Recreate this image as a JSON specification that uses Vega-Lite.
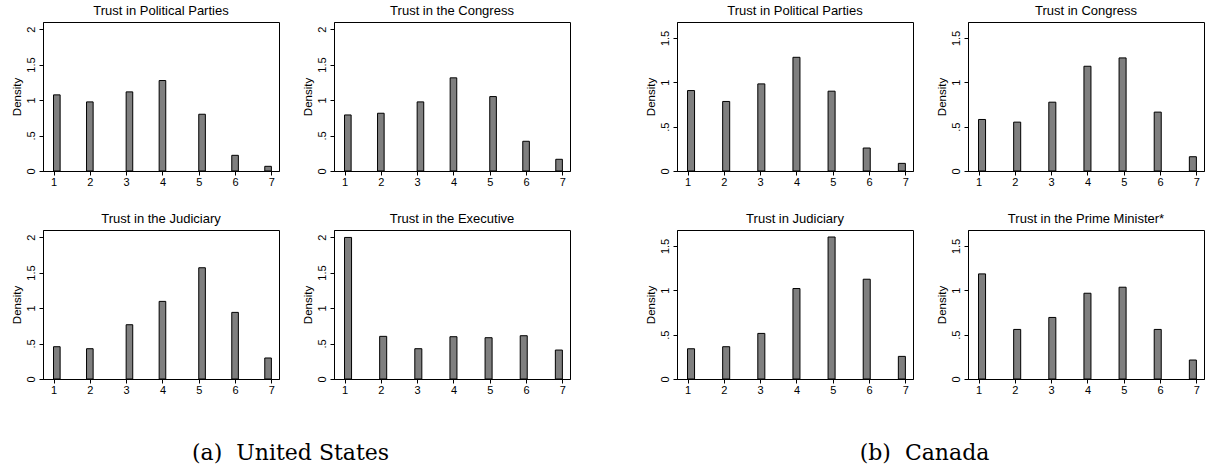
{
  "$schema": "https://vega.github.io/schema/vega-lite/v6.json",
  "background": "white",
  "padding": {"left": 10, "top": 4, "right": 0, "bottom": 0},
  "datasets": {
    "bars": [
      {"panel": "us1", "v": 1, "x0": 1.0, "x1": 1.1818, "d": 1.073},
      {"panel": "us1", "v": 2, "x0": 1.9091, "x1": 2.0909, "d": 0.974},
      {"panel": "us1", "v": 3, "x0": 3.0, "x1": 3.1818, "d": 1.115},
      {"panel": "us1", "v": 4, "x0": 3.9091, "x1": 4.0909, "d": 1.275},
      {"panel": "us1", "v": 5, "x0": 5.0, "x1": 5.1818, "d": 0.8},
      {"panel": "us1", "v": 6, "x0": 5.9091, "x1": 6.0909, "d": 0.221},
      {"panel": "us1", "v": 7, "x0": 6.8182, "x1": 7.0, "d": 0.066},
      {"panel": "us2", "v": 1, "x0": 1.0, "x1": 1.1818, "d": 0.79},
      {"panel": "us2", "v": 2, "x0": 1.9091, "x1": 2.0909, "d": 0.814},
      {"panel": "us2", "v": 3, "x0": 3.0, "x1": 3.1818, "d": 0.974},
      {"panel": "us2", "v": 4, "x0": 3.9091, "x1": 4.0909, "d": 1.313},
      {"panel": "us2", "v": 5, "x0": 5.0, "x1": 5.1818, "d": 1.049},
      {"panel": "us2", "v": 6, "x0": 5.9091, "x1": 6.0909, "d": 0.419},
      {"panel": "us2", "v": 7, "x0": 6.8182, "x1": 7.0, "d": 0.165},
      {"panel": "us3", "v": 1, "x0": 1.0, "x1": 1.1818, "d": 0.455},
      {"panel": "us3", "v": 2, "x0": 1.9091, "x1": 2.0909, "d": 0.427},
      {"panel": "us3", "v": 3, "x0": 3.0, "x1": 3.1818, "d": 0.765},
      {"panel": "us3", "v": 4, "x0": 3.9091, "x1": 4.0909, "d": 1.094},
      {"panel": "us3", "v": 5, "x0": 5.0, "x1": 5.1818, "d": 1.568},
      {"panel": "us3", "v": 6, "x0": 5.9091, "x1": 6.0909, "d": 0.939},
      {"panel": "us3", "v": 7, "x0": 6.8182, "x1": 7.0, "d": 0.296},
      {"panel": "us4", "v": 1, "x0": 1.0, "x1": 1.1935, "d": 1.995},
      {"panel": "us4", "v": 2, "x0": 1.9677, "x1": 2.1613, "d": 0.601},
      {"panel": "us4", "v": 3, "x0": 2.9355, "x1": 3.129, "d": 0.427},
      {"panel": "us4", "v": 4, "x0": 3.9032, "x1": 4.0968, "d": 0.596},
      {"panel": "us4", "v": 5, "x0": 4.871, "x1": 5.0645, "d": 0.582},
      {"panel": "us4", "v": 6, "x0": 5.8387, "x1": 6.0323, "d": 0.61},
      {"panel": "us4", "v": 7, "x0": 6.8065, "x1": 7.0, "d": 0.408},
      {"panel": "ca1", "v": 1, "x0": 1.0, "x1": 1.1935, "d": 0.907},
      {"panel": "ca1", "v": 2, "x0": 1.9677, "x1": 2.1613, "d": 0.784},
      {"panel": "ca1", "v": 3, "x0": 2.9355, "x1": 3.129, "d": 0.982},
      {"panel": "ca1", "v": 4, "x0": 3.9032, "x1": 4.0968, "d": 1.282},
      {"panel": "ca1", "v": 5, "x0": 4.871, "x1": 5.0645, "d": 0.9},
      {"panel": "ca1", "v": 6, "x0": 5.8387, "x1": 6.0323, "d": 0.259},
      {"panel": "ca1", "v": 7, "x0": 6.8065, "x1": 7.0, "d": 0.086},
      {"panel": "ca2", "v": 1, "x0": 1.0, "x1": 1.1935, "d": 0.581},
      {"panel": "ca2", "v": 2, "x0": 1.9677, "x1": 2.1613, "d": 0.551},
      {"panel": "ca2", "v": 3, "x0": 2.9355, "x1": 3.129, "d": 0.776},
      {"panel": "ca2", "v": 4, "x0": 3.9032, "x1": 4.0968, "d": 1.181},
      {"panel": "ca2", "v": 5, "x0": 4.871, "x1": 5.0645, "d": 1.275},
      {"panel": "ca2", "v": 6, "x0": 5.8387, "x1": 6.0323, "d": 0.664},
      {"panel": "ca2", "v": 7, "x0": 6.8065, "x1": 7.0, "d": 0.161},
      {"panel": "ca3", "v": 1, "x0": 1.0, "x1": 1.1935, "d": 0.341},
      {"panel": "ca3", "v": 2, "x0": 1.9677, "x1": 2.1613, "d": 0.364},
      {"panel": "ca3", "v": 3, "x0": 2.9355, "x1": 3.129, "d": 0.514},
      {"panel": "ca3", "v": 4, "x0": 3.9032, "x1": 4.0968, "d": 1.02},
      {"panel": "ca3", "v": 5, "x0": 4.871, "x1": 5.0645, "d": 1.601},
      {"panel": "ca3", "v": 6, "x0": 5.8387, "x1": 6.0323, "d": 1.125},
      {"panel": "ca3", "v": 7, "x0": 6.8065, "x1": 7.0, "d": 0.255},
      {"panel": "ca4", "v": 1, "x0": 1.0, "x1": 1.1935, "d": 1.185},
      {"panel": "ca4", "v": 2, "x0": 1.9677, "x1": 2.1613, "d": 0.559},
      {"panel": "ca4", "v": 3, "x0": 2.9355, "x1": 3.129, "d": 0.694},
      {"panel": "ca4", "v": 4, "x0": 3.9032, "x1": 4.0968, "d": 0.967},
      {"panel": "ca4", "v": 5, "x0": 4.871, "x1": 5.0645, "d": 1.035},
      {"panel": "ca4", "v": 6, "x0": 5.8387, "x1": 6.0323, "d": 0.559},
      {"panel": "ca4", "v": 7, "x0": 6.8065, "x1": 7.0, "d": 0.214}
    ]
  },
  "spacing": 73,
  "hconcat": [
    {
      "title": {"text": "(a)\u00a0\u00a0United States", "orient": "bottom", "anchor": "middle", "font": "DejaVu Serif", "fontSize": 22, "fontWeight": "normal", "offset": 47},
      "spacing": 24,
      "vconcat": [
        {
          "spacing": 21,
          "hconcat": [
            {
              "width": 236, "height": 149,
              "title": "Trust in Political Parties",
              "data": {"name": "bars"},
              "transform": [{"filter": "datum.panel === 'us1'"}],
              "mark": {"type": "bar", "fill": "#7f7f7f", "stroke": "#000000", "strokeWidth": 1},
              "encoding": {
                "x": {"field": "x0", "type": "quantitative", "scale": {"domain": [0.71, 7.21], "nice": false, "zero": false}, "axis": {"values": [1, 2, 3, 4, 5, 6, 7], "format": "d", "title": null}},
                "x2": {"field": "x1"},
                "y": {"field": "d", "type": "quantitative", "scale": {"domain": [0, 2.1], "nice": false}, "axis": {"values": [0, 0.5, 1, 1.5, 2], "labelExpr": "datum.value === 0.5 ? '.5' : format(datum.value, '~g')", "title": "Density"}},
                "y2": {"datum": 0}
              }
            },
            {
              "width": 236, "height": 149,
              "title": "Trust in the Congress",
              "data": {"name": "bars"},
              "transform": [{"filter": "datum.panel === 'us2'"}],
              "mark": {"type": "bar", "fill": "#7f7f7f", "stroke": "#000000", "strokeWidth": 1},
              "encoding": {
                "x": {"field": "x0", "type": "quantitative", "scale": {"domain": [0.71, 7.21], "nice": false, "zero": false}, "axis": {"values": [1, 2, 3, 4, 5, 6, 7], "format": "d", "title": null}},
                "x2": {"field": "x1"},
                "y": {"field": "d", "type": "quantitative", "scale": {"domain": [0, 2.1], "nice": false}, "axis": {"values": [0, 0.5, 1, 1.5, 2], "labelExpr": "datum.value === 0.5 ? '.5' : format(datum.value, '~g')", "title": "Density"}},
                "y2": {"datum": 0}
              }
            }
          ]
        },
        {
          "spacing": 21,
          "hconcat": [
            {
              "width": 236, "height": 149,
              "title": "Trust in the Judiciary",
              "data": {"name": "bars"},
              "transform": [{"filter": "datum.panel === 'us3'"}],
              "mark": {"type": "bar", "fill": "#7f7f7f", "stroke": "#000000", "strokeWidth": 1},
              "encoding": {
                "x": {"field": "x0", "type": "quantitative", "scale": {"domain": [0.71, 7.21], "nice": false, "zero": false}, "axis": {"values": [1, 2, 3, 4, 5, 6, 7], "format": "d", "title": null}},
                "x2": {"field": "x1"},
                "y": {"field": "d", "type": "quantitative", "scale": {"domain": [0, 2.1], "nice": false}, "axis": {"values": [0, 0.5, 1, 1.5, 2], "labelExpr": "datum.value === 0.5 ? '.5' : format(datum.value, '~g')", "title": "Density"}},
                "y2": {"datum": 0}
              }
            },
            {
              "width": 236, "height": 149,
              "title": "Trust in the Executive",
              "data": {"name": "bars"},
              "transform": [{"filter": "datum.panel === 'us4'"}],
              "mark": {"type": "bar", "fill": "#7f7f7f", "stroke": "#000000", "strokeWidth": 1},
              "encoding": {
                "x": {"field": "x0", "type": "quantitative", "scale": {"domain": [0.71, 7.21], "nice": false, "zero": false}, "axis": {"values": [1, 2, 3, 4, 5, 6, 7], "format": "d", "title": null}},
                "x2": {"field": "x1"},
                "y": {"field": "d", "type": "quantitative", "scale": {"domain": [0, 2.1], "nice": false}, "axis": {"values": [0, 0.5, 1, 1.5, 2], "labelExpr": "datum.value === 0.5 ? '.5' : format(datum.value, '~g')", "title": "Density"}},
                "y2": {"datum": 0}
              }
            }
          ]
        }
      ]
    },
    {
      "title": {"text": "(b)\u00a0\u00a0Canada", "orient": "bottom", "anchor": "middle", "font": "DejaVu Serif", "fontSize": 22, "fontWeight": "normal", "offset": 47},
      "spacing": 24,
      "vconcat": [
        {
          "spacing": 21,
          "hconcat": [
            {
              "width": 236, "height": 149,
              "title": "Trust in Political Parties",
              "data": {"name": "bars"},
              "transform": [{"filter": "datum.panel === 'ca1'"}],
              "mark": {"type": "bar", "fill": "#7f7f7f", "stroke": "#000000", "strokeWidth": 1},
              "encoding": {
                "x": {"field": "x0", "type": "quantitative", "scale": {"domain": [0.71, 7.21], "nice": false, "zero": false}, "axis": {"values": [1, 2, 3, 4, 5, 6, 7], "format": "d", "title": null}},
                "x2": {"field": "x1"},
                "y": {"field": "d", "type": "quantitative", "scale": {"domain": [0, 1.68], "nice": false}, "axis": {"values": [0, 0.5, 1, 1.5], "labelExpr": "datum.value === 0.5 ? '.5' : format(datum.value, '~g')", "title": "Density"}},
                "y2": {"datum": 0}
              }
            },
            {
              "width": 236, "height": 149,
              "title": "Trust in Congress",
              "data": {"name": "bars"},
              "transform": [{"filter": "datum.panel === 'ca2'"}],
              "mark": {"type": "bar", "fill": "#7f7f7f", "stroke": "#000000", "strokeWidth": 1},
              "encoding": {
                "x": {"field": "x0", "type": "quantitative", "scale": {"domain": [0.71, 7.21], "nice": false, "zero": false}, "axis": {"values": [1, 2, 3, 4, 5, 6, 7], "format": "d", "title": null}},
                "x2": {"field": "x1"},
                "y": {"field": "d", "type": "quantitative", "scale": {"domain": [0, 1.68], "nice": false}, "axis": {"values": [0, 0.5, 1, 1.5], "labelExpr": "datum.value === 0.5 ? '.5' : format(datum.value, '~g')", "title": "Density"}},
                "y2": {"datum": 0}
              }
            }
          ]
        },
        {
          "spacing": 21,
          "hconcat": [
            {
              "width": 236, "height": 149,
              "title": "Trust in Judiciary",
              "data": {"name": "bars"},
              "transform": [{"filter": "datum.panel === 'ca3'"}],
              "mark": {"type": "bar", "fill": "#7f7f7f", "stroke": "#000000", "strokeWidth": 1},
              "encoding": {
                "x": {"field": "x0", "type": "quantitative", "scale": {"domain": [0.71, 7.21], "nice": false, "zero": false}, "axis": {"values": [1, 2, 3, 4, 5, 6, 7], "format": "d", "title": null}},
                "x2": {"field": "x1"},
                "y": {"field": "d", "type": "quantitative", "scale": {"domain": [0, 1.68], "nice": false}, "axis": {"values": [0, 0.5, 1, 1.5], "labelExpr": "datum.value === 0.5 ? '.5' : format(datum.value, '~g')", "title": "Density"}},
                "y2": {"datum": 0}
              }
            },
            {
              "width": 236, "height": 149,
              "title": "Trust in the Prime Minister*",
              "data": {"name": "bars"},
              "transform": [{"filter": "datum.panel === 'ca4'"}],
              "mark": {"type": "bar", "fill": "#7f7f7f", "stroke": "#000000", "strokeWidth": 1},
              "encoding": {
                "x": {"field": "x0", "type": "quantitative", "scale": {"domain": [0.71, 7.21], "nice": false, "zero": false}, "axis": {"values": [1, 2, 3, 4, 5, 6, 7], "format": "d", "title": null}},
                "x2": {"field": "x1"},
                "y": {"field": "d", "type": "quantitative", "scale": {"domain": [0, 1.68], "nice": false}, "axis": {"values": [0, 0.5, 1, 1.5], "labelExpr": "datum.value === 0.5 ? '.5' : format(datum.value, '~g')", "title": "Density"}},
                "y2": {"datum": 0}
              }
            }
          ]
        }
      ]
    }
  ],
  "config": {
    "font": "Liberation Sans",
    "view": {"stroke": "#000000", "strokeWidth": 1},
    "title": {"fontSize": 13, "fontWeight": "normal", "color": "#000000", "offset": 4},
    "axis": {"grid": false, "domainColor": "#000000", "tickColor": "#000000", "labelColor": "#000000", "titleColor": "#000000", "labelFont": "Liberation Sans", "titleFont": "Liberation Sans", "labelFontSize": 11, "titleFontSize": 11.5, "titleFontWeight": "normal", "tickSize": 4, "labelOverlap": false, "labelFlush": false},
    "axisY": {"labelAngle": -90, "labelAlign": "center", "labelBaseline": "bottom", "labelPadding": 3, "titlePadding": 3},
    "axisX": {"labelPadding": 1}
  }
}
